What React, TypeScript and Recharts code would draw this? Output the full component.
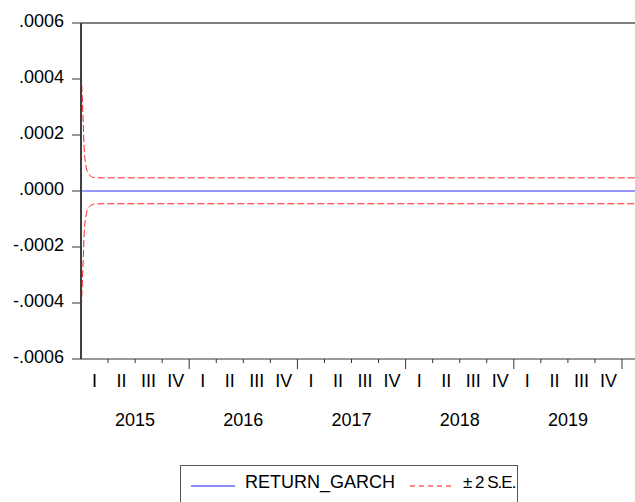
import { LineChart, Line, XAxis, YAxis, ReferenceLine } from "recharts"

// time in quarters since 2015Q1
const T = [0, 0.05, 0.085, 0.12, 0.18, 0.24, 0.34, 0.49, 0.8, 20.48]
const RETURN_GARCH = [0, 0, 0, 0, 0, 0, 0, 0, 0, 0]
const UPPER = [0.00045, 0.000325, 0.000236, 0.000146, 0.000093, 0.000068, 0.000055, 0.000048, 0.000047, 0.000047]
const LOWER = [-0.00045, -0.000325, -0.000236, -0.000146, -0.000092, -0.000066, -0.000053, -0.000047, -0.0000455, -0.0000455]

const Y_TICKS = [-0.0006, -0.0004, -0.0002, 0, 0.0002, 0.0004, 0.0006]
const Y_LABELS = ["-.0006", "-.0004", "-.0002", ".0000", ".0002", ".0004", ".0006"]
const X_TICKS = [0, 1, 2, 3, 4, 5, 6, 7, 8, 9, 10, 11, 12, 13, 14, 15, 16, 17, 18, 19, 20]
const QUARTERS = ["I", "II", "III", "IV"]
const YEARS = ["2015", "2016", "2017", "2018", "2019"]

const X_MAX = 20.48
const W = 635
const PLOT_LEFT = 81
const Q_PX = (W - PLOT_LEFT) / X_MAX
const FONT = "'Liberation Sans', Arial, sans-serif"

const data = T.map((t, i) => ({ t, fc: RETURN_GARCH[i], up: UPPER[i], lo: LOWER[i] }))

const XTick = ({ x, y, payload }: any) => {
  const v = payload.value as number
  return (
    <g>
      {v > 0 && <line x1={x} x2={x} y1={y} y2={y + (v % 4 === 0 ? 10 : 4)} stroke="#333" />}
      {v < 20 && (
        <text x={x + Q_PX / 2} y={y + 22} dy="0.35em" textAnchor="middle" fontSize={18}
          fontFamily="'Liberation Sans Narrow', 'Arial Narrow', sans-serif" fill="#000">
          {QUARTERS[v % 4]}
        </text>
      )}
      {v % 4 === 0 && v < 20 && (
        <text x={x + 2 * Q_PX} y={y + 61} dy="0.35em" textAnchor="middle" fontSize={18} fontFamily={FONT} fill="#000">
          {YEARS[v / 4]}
        </text>
      )}
    </g>
  )
}

const YTick = ({ x, y, index }: any) => (
  <text x={x} y={y - 2} dy="0.35em" textAnchor="end" fontSize={18} fontFamily={FONT} fill="#000">
    {Y_LABELS[index]}
  </text>
)

export default function App() {
  return (
    <div style={{ position: "absolute", left: 0, top: 0, width: W, height: 502, background: "#fff", overflow: "hidden" }}>
      <LineChart width={W} height={502} data={data} margin={{ top: 23, right: 0, bottom: 0, left: 0 }}>
        <XAxis dataKey="t" type="number" domain={[0, X_MAX]} ticks={X_TICKS} interval={0}
          tickSize={0} tickMargin={0} tick={<XTick />} height={143}
          axisLine={{ stroke: "#333", strokeWidth: 1.2 }} />
        <YAxis type="number" domain={[-0.0006, 0.0006]} ticks={Y_TICKS} interval={0} width={PLOT_LEFT}
          tickSize={9} tickMargin={8} tick={<YTick />}
          tickLine={{ stroke: "#333" }} axisLine={{ stroke: "#404040", strokeWidth: 2 }} />
        <ReferenceLine y={0.0006} stroke="#000" strokeWidth={1} />
        <Line dataKey="fc" stroke="#2a2af5" strokeWidth={1} dot={false} isAnimationActive={false} />
        <Line dataKey="up" type="monotone" stroke="#ff2020" strokeWidth={1} strokeDasharray="7 3" dot={false} isAnimationActive={false} />
        <Line dataKey="lo" type="monotone" stroke="#ff2020" strokeWidth={1} strokeDasharray="7 3" dot={false} isAnimationActive={false} />
      </LineChart>
      {/* legend box, EViews style */}
      <div style={{ position: "absolute", left: 180, top: 465, width: 338, height: 50, border: "1px solid #555", boxSizing: "border-box" }}>
        <svg width={338} height={50} style={{ position: "absolute", left: 0, top: 0 }}>
          <line x1={10} x2={54} y1={20} y2={20} stroke="#6666ff" strokeWidth={1.5} />
          <text x={64} y={16} dy="0.35em" fontSize={18} fontFamily={FONT} fill="#000">RETURN_GARCH</text>
          <line x1={229} x2={273} y1={20} y2={20} stroke="#ff6060" strokeWidth={1.5} strokeDasharray="5 4" />
          <text x={282} y={16} dy="0.35em" fontSize={17} letterSpacing={-1} fontFamily={FONT} fill="#000">± 2 S.E.</text>
        </svg>
      </div>
    </div>
  )
}
